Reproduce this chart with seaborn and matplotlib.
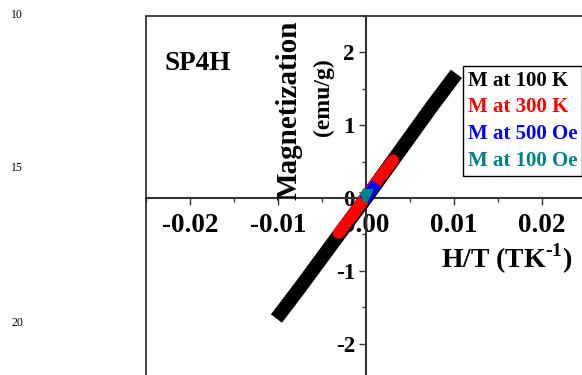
import matplotlib
matplotlib.use("Agg")
import matplotlib.pyplot as plt
from matplotlib.patches import Rectangle
from matplotlib.ticker import MultipleLocator, FormatStrFormatter
import numpy as np
import pandas as pd
import seaborn as sns

# Magnetization vs H/T for sample SP4H
ht_100K = [-0.0097, -0.0075, -0.0050, -0.0025, 0.0, 0.0025, 0.0050, 0.0075, 0.0098]
m_100K = [-1.58, -1.23, -0.82, -0.41, 0.0, 0.42, 0.84, 1.26, 1.63]

ht_300K = [-0.0031, -0.0015, 0.0, 0.0015, 0.0031]
m_300K = [-0.48, -0.23, 0.02, 0.27, 0.52]

ht_500Oe = [-0.0002, 0.0005, 0.0012]
m_500Oe = [-0.03, 0.09, 0.20]

ht_100Oe = [-0.0001, 0.0001, 0.0002]
m_100Oe = [0.00, 0.02, 0.04]

series_labels = ["M at 100 K", "M at 300 K", "M at 500 Oe", "M at 100 Oe"]
series_colors = ["#000000", "#ff0000", "#0000ff", "#008080"]

x_ticks = [-0.02, -0.01, 0.00, 0.01, 0.02]
y_ticks = [-2, -1, 0, 1, 2]

frames = []
for lab, xs, ys in zip(series_labels,
                       [ht_100K, ht_300K, ht_500Oe, ht_100Oe],
                       [m_100K, m_300K, m_500Oe, m_100Oe]):
    frames.append(pd.DataFrame({"HT": xs, "M": ys, "series": lab}))
df = pd.concat(frames, ignore_index=True)

sns.set_theme(style="white")
plt.rcParams["font.family"] = ["Liberation Serif", "DejaVu Serif"]
plt.rcParams["font.weight"] = "bold"
plt.rcParams["axes.unicode_minus"] = False
plt.rcParams["text.color"] = "black"
plt.rcParams["xtick.color"] = "black"
plt.rcParams["ytick.color"] = "black"
plt.rcParams["axes.labelcolor"] = "black"
plt.rcParams["mathtext.fontset"] = "custom"
plt.rcParams["mathtext.rm"] = "Liberation Serif:bold"
plt.rcParams["mathtext.bf"] = "Liberation Serif:bold"

W, H = 582, 375
fig = plt.figure(figsize=(W / 100, H / 100), dpi=100)
ax = fig.add_axes([146 / W, 1 - 380 / H, 440 / W, 364 / H])

styles = {
    "M at 100 K": dict(lw=10, solid_capstyle="projecting", zorder=3),
    "M at 300 K": dict(lw=8.5, solid_capstyle="round", zorder=4),
    "M at 500 Oe": dict(lw=8.0, solid_capstyle="butt", zorder=5),
    "M at 100 Oe": dict(lw=0, marker="v", markersize=9, zorder=6),
}
for lab, col in zip(series_labels, series_colors):
    sub = df[df["series"] == lab]
    sns.lineplot(data=sub, x="HT", y="M", color=col, label=lab, ax=ax,
                 sort=False, estimator=None, markeredgewidth=0, **styles[lab])

ax.set_xlim(-0.025, 0.025)
ax.set_ylim(-2.5, 2.5)
ax.set_xticks(x_ticks)
ax.set_yticks(y_ticks)
ax.xaxis.set_minor_locator(MultipleLocator(0.005))
ax.yaxis.set_minor_locator(MultipleLocator(0.5))
ax.xaxis.set_major_formatter(FormatStrFormatter("%.2f"))
ax.yaxis.set_major_formatter(FormatStrFormatter("%d"))
ax.set_xlabel("")
ax.set_ylabel("")

# axes crossing at the origin
for side in ["left", "bottom"]:
    ax.spines[side].set_position(("data", 0))
    ax.spines[side].set_color("#333333")
    ax.spines[side].set_linewidth(1.5)
for side in ["top", "right"]:
    ax.spines[side].set_visible(False)
ax.add_patch(Rectangle((0, 0), 1, 1, transform=ax.transAxes, fill=False,
                       edgecolor="#222222", lw=1.2, clip_on=False, zorder=1))

ax.tick_params(axis="x", which="major", direction="out", length=5, width=1,
               color="#333333", labelcolor="black", labelsize=19.5, pad=6,
               bottom=True)
ax.tick_params(axis="x", which="minor", direction="out", length=3, width=1,
               color="#333333", bottom=True)
ax.tick_params(axis="y", which="major", direction="out", length=5, width=1,
               color="#333333", labelcolor="black", labelsize=16.5, pad=3,
               left=True)
ax.tick_params(axis="y", which="minor", direction="out", length=3, width=1,
               color="#333333", left=True)
for t in ax.get_xticklabels() + ax.get_yticklabels():
    t.set_fontweight("bold")

leg = ax.legend(loc="upper left", bbox_to_anchor=(463 / W, 1 - 66 / H),
                bbox_transform=fig.transFigure, borderaxespad=0,
                handlelength=0, handletextpad=0, labelspacing=0.33,
                borderpad=0.22, fancybox=False, framealpha=1,
                edgecolor="black", prop={"size": 15, "weight": "bold"})
leg.get_frame().set_linewidth(1.0)
for h in leg.legend_handles:
    h.set_visible(False)
for txt, col in zip(leg.get_texts(), series_colors):
    txt.set_color(col)

def px(x, y):
    return x / W, 1 - y / H

fig.text(*px(165, 70), "SP4H", fontsize=19.5, fontweight="bold",
         ha="left", va="baseline")
fig.text(*px(289, 110), "Magnetization", fontsize=21, fontweight="bold",
         rotation=90, ha="center", va="center")
fig.text(*px(323, 97), "(emu/g)", fontsize=17, fontweight="bold",
         rotation=90, ha="center", va="center")
fig.text(*px(507, 268), r"H/T (TK$^{\text{-1}}$)", fontsize=20,
         fontweight="bold", ha="center", va="baseline")

for num, yy in [("10", 15.5), ("15", 168), ("20", 323)]:
    fig.text(*px(17, yy), num, fontsize=8.5, fontweight="normal",
             ha="center", va="center")

fig.savefig("out.png", dpi=100)
